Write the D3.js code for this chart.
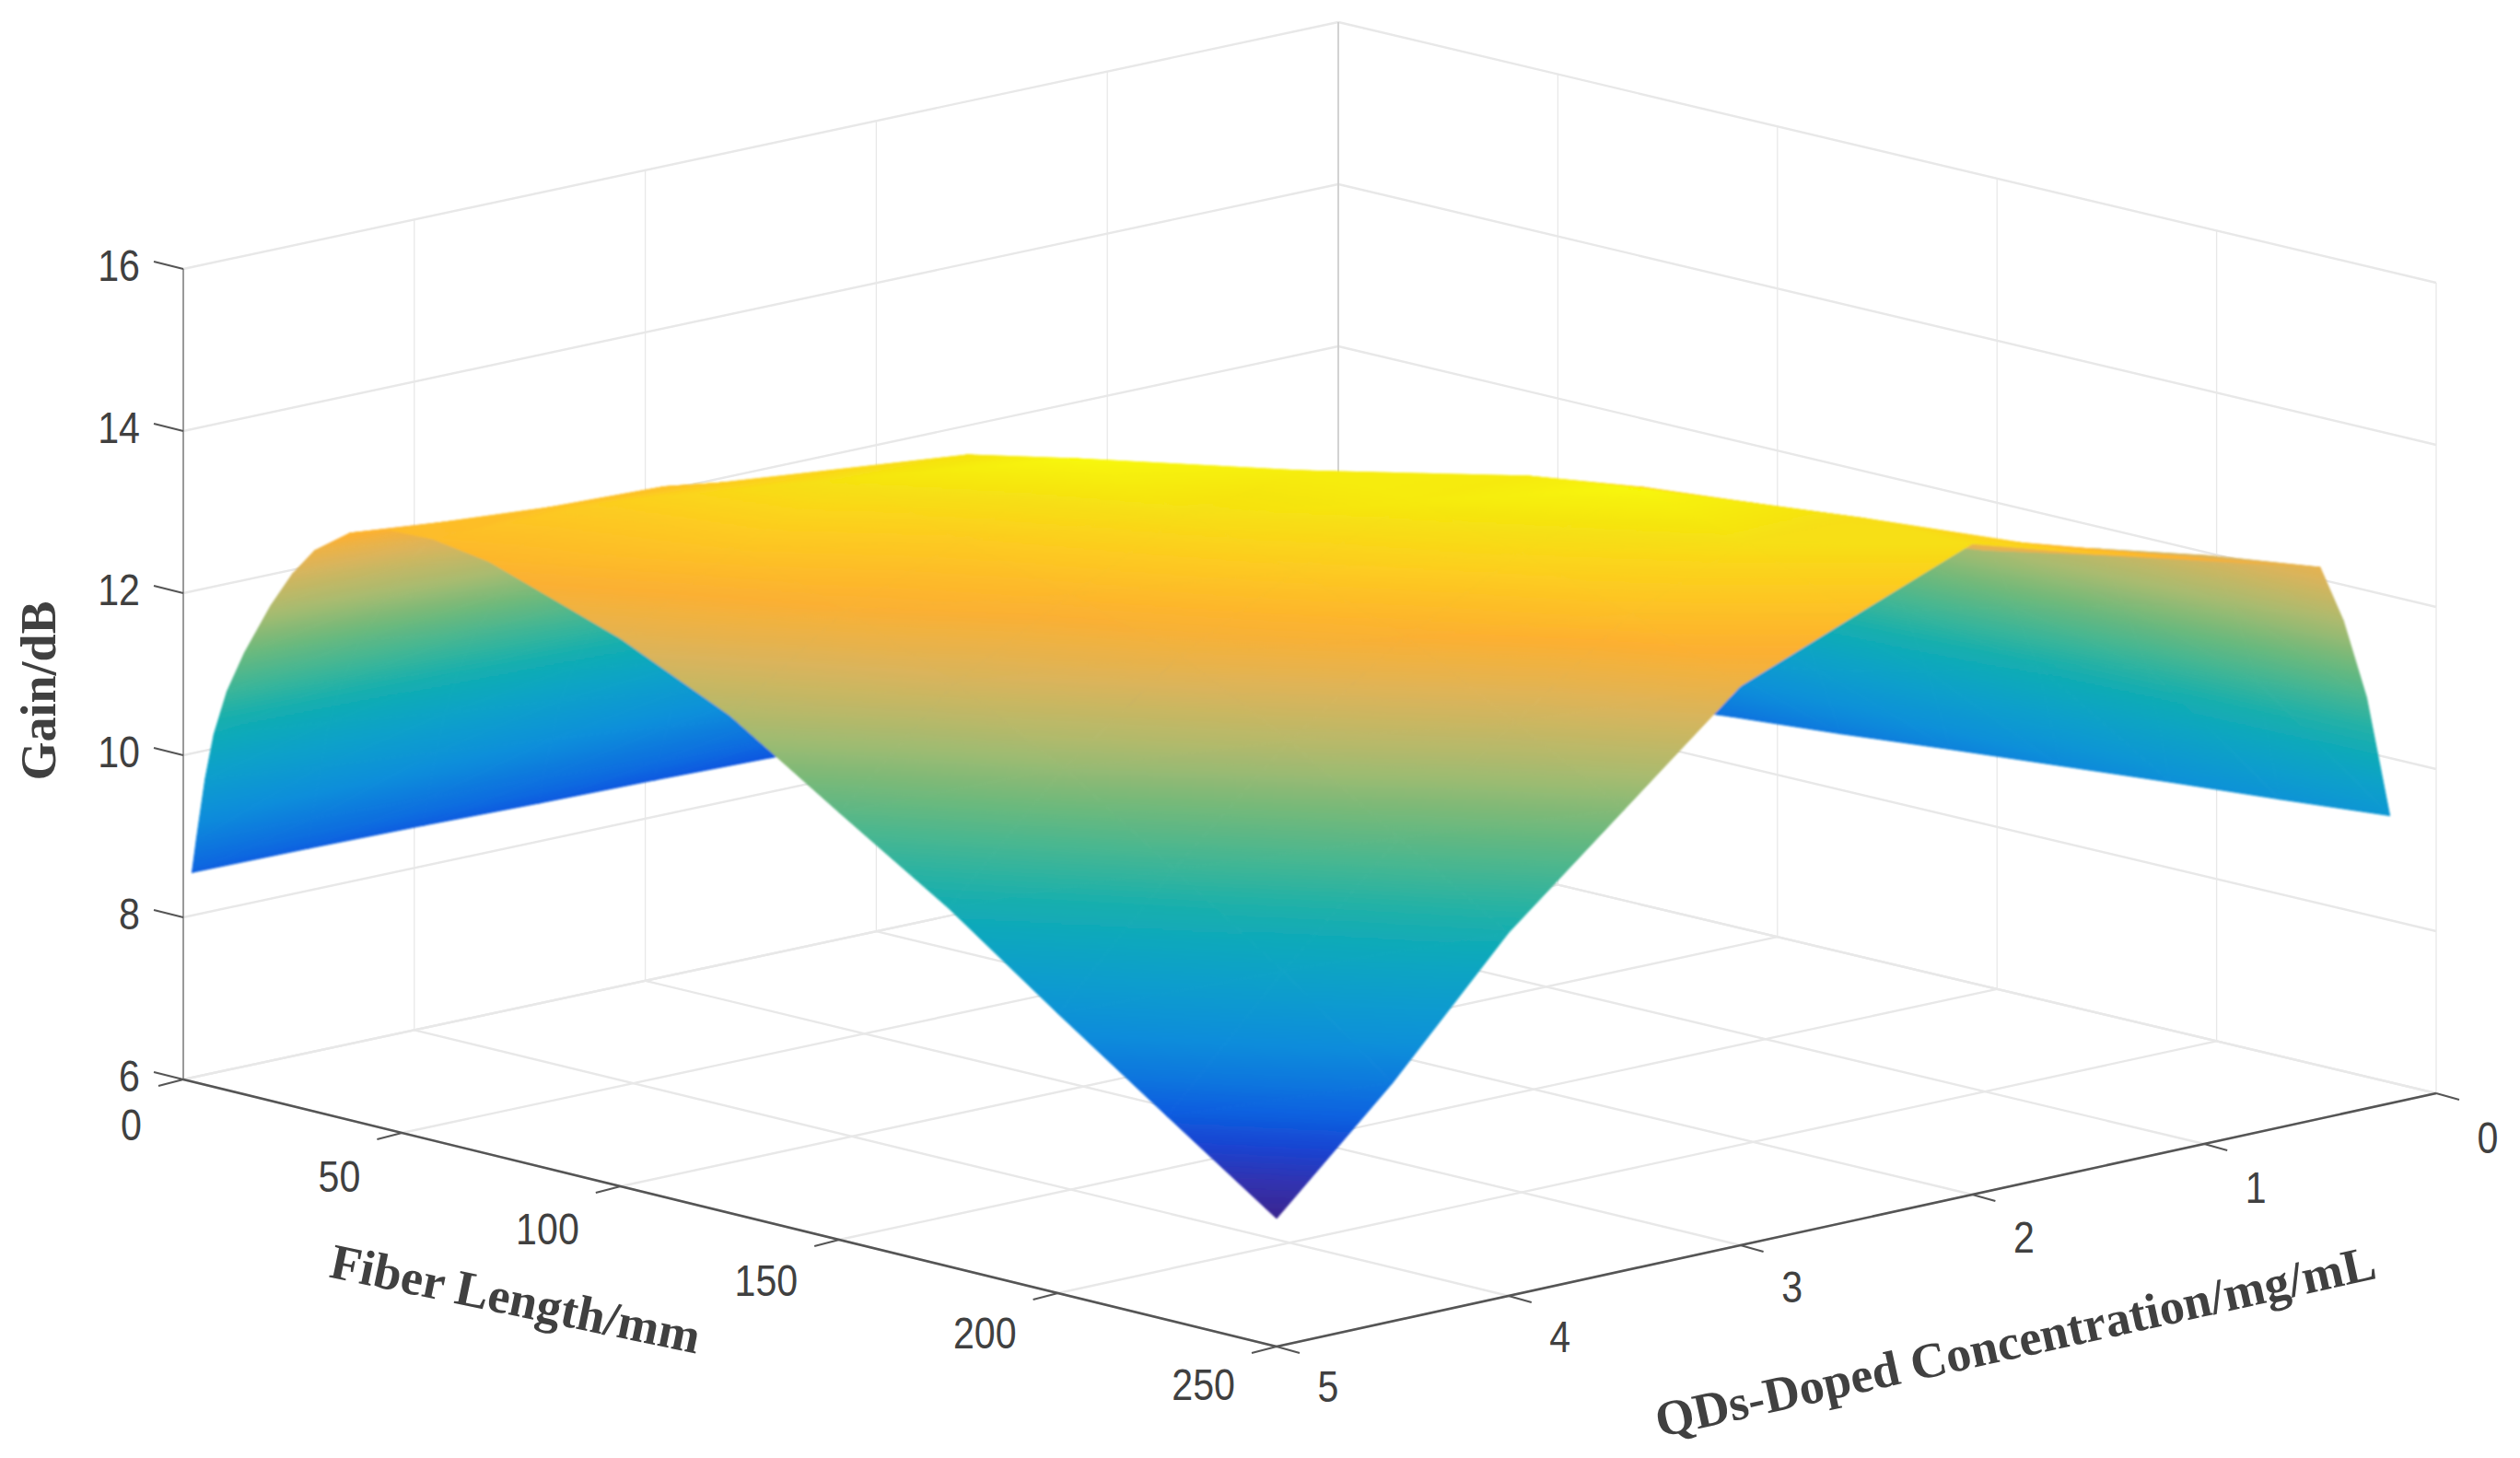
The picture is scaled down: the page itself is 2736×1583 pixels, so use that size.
<!DOCTYPE html>
<html>
  <head>
	<meta charset="utf-8">
	<title>Gain surface</title>
	<script src="https://d3js.org/d3.v7.min.js"></script>
	<style>
		html, body { margin: 0; background: #fff; }
		.tick-label { font-family: "Liberation Sans", sans-serif; font-size: 49px; fill: #404040; }
		.axis-title { font-family: "Liberation Serif", serif; font-weight: bold; font-size: 54px; fill: #404040; }
	</style>
  </head>
  <body>
	<svg id="chart"></svg>
	<script type="text/javascript">
		var fiberTicks = [0, 50, 100, 150, 200, 250];
		var concTicks = [0, 1, 2, 3, 4, 5];
		var gainTicks = [6, 8, 10, 12, 14, 16];

		var fiberLengths = [2, 3, 5, 7, 10, 14, 20, 25, 30, 38, 47, 57, 70, 100, 125, 150, 175, 200, 225, 250];
		var concentrations = [0.2, 0.3, 0.4, 0.5, 1, 1.5, 2, 2.5, 3, 3.5, 4, 4.5, 5];

		// one row per concentration, one value per fiber length
		var gain = [
			[7.7, 7.75, 7.82, 7.88, 7.97, 8.07, 8.17, 8.25, 8.32, 8.42, 8.52, 8.6, 8.68, 8.84, 8.95, 9.08, 9.2, 9.32, 9.43, 9.55],
			[7.8, 7.87, 8.0, 8.1, 8.25, 8.4, 8.6, 8.72, 8.85, 8.98, 9.1, 9.2, 9.35, 9.6, 9.8, 10.1, 10.5, 10.8, 10.95, 11.07],
			[7.85, 7.95, 8.15, 8.3, 8.5, 8.7, 8.95, 9.1, 9.25, 9.45, 9.65, 9.85, 10.05, 10.4, 10.65, 10.92, 11.28, 11.62, 11.93, 12.08],
			[7.9, 8.0, 8.25, 8.45, 8.7, 8.95, 9.25, 9.45, 9.65, 9.9, 10.15, 10.35, 10.6, 11.05, 11.45, 11.8, 12.08, 12.38, 12.62, 12.8],
			[8.15, 8.3, 8.55, 8.8, 9.1, 9.45, 9.8, 10.05, 10.3, 10.6, 10.85, 11.15, 11.38, 11.9, 12.15, 12.35, 12.5, 12.68, 12.95, 13.22],
			[8.3, 8.45, 8.75, 9.05, 9.4, 9.8, 10.2, 10.5, 10.8, 11.15, 11.45, 11.75, 11.98, 12.4, 12.72, 12.96, 13.12, 13.28, 13.45, 13.6],
			[8.42, 8.6, 8.9, 9.25, 9.65, 10.1, 10.55, 10.9, 11.25, 11.65, 12.0, 12.3, 12.48, 12.9, 13.21, 13.47, 13.75, 13.88, 14.02, 14.03],
			[8.47, 8.7, 9.05, 9.45, 9.85, 10.3, 10.8, 11.2, 11.55, 11.95, 12.3, 12.6, 12.84, 13.26, 13.53, 13.89, 14.2, 14.38, 14.04, 13.47],
			[8.5, 8.75, 9.2, 9.65, 10.05, 10.55, 11.05, 11.5, 11.85, 12.3, 12.6, 12.9, 13.15, 13.67, 13.93, 14.25, 14.2, 13.89, 13.46, 12.9],
			[8.52, 8.85, 9.35, 9.85, 10.3, 10.8, 11.35, 11.8, 12.15, 12.6, 12.9, 13.2, 13.46, 14.1, 14.38, 14.03, 13.65, 13.17, 12.44, 11.69],
			[8.55, 8.9, 9.5, 10.0, 10.55, 11.1, 11.65, 12.1, 12.45, 12.9, 13.15, 13.45, 13.67, 14.12, 13.67, 13.34, 12.92, 12.19, 11.32, 10.48],
			[8.57, 8.95, 9.62, 10.2, 10.75, 11.3, 11.9, 12.4, 12.75, 13.1, 13.25, 13.5, 13.73, 13.56, 13.13, 12.56, 11.84, 10.92, 9.99, 8.94],
			[8.58, 9.0, 9.77, 10.35, 10.92, 11.45, 12.11, 12.57, 12.92, 13.24, 13.4, 13.42, 13.31, 12.76, 12.14, 11.27, 10.42, 9.45, 8.51, 7.58]
		];

		var width = 2736, height = 1583;

		// floor corners of the box: slight perspective, so x/y are bilinear in fiber and conc
		var back = [1453, 904], right = [2645, 1187], left = [199, 1172], front = [1386, 1462];

		var uScale = d3.scaleLinear().domain([0, 250]).range([0, 1]);
		var vScale = d3.scaleLinear().domain([0, 5]).range([0, 1]);
		var zScale = d3.scaleLinear().domain([6, 16]).range([0, -880]);

		function project(fiber, conc, z) {
			var u = uScale(fiber), v = vScale(conc);
			var x = (1 - u) * (1 - v) * back[0] + u * (1 - v) * right[0] + (1 - u) * v * left[0] + u * v * front[0];
			var y = (1 - u) * (1 - v) * back[1] + u * (1 - v) * right[1] + (1 - u) * v * left[1] + u * v * front[1];
			return [x, y + zScale(z)];
		}

		// colours sampled from the reference down the middle of the surface
		var color = d3.scaleLinear()
			.domain([7.58, 7.7, 8.1, 8.4, 8.7, 9.3, 9.95, 10.5, 10.9, 11.5, 12.0, 12.65, 13.2, 13.7, 14.15, 14.42])
			.range(["#3a2590", "#3b2a9a", "#2a38c0", "#0c4fe0", "#0a6be0", "#0d8fda", "#08a2c8", "#14aeb0",
				"#38b59a", "#70b97a", "#a8bb70", "#dcb45a", "#fdb030", "#fdcc20", "#f5e60f", "#f8fa05"])
			.clamp(true);

		var svg = d3.select("#chart")
			.attr("width", width)
			.attr("height", height)
			.attr("viewBox", "0 0 " + width + " " + height);

		var defs = svg.append("defs");
		defs.append("filter")
			.attr("id", "soft")
			.attr("filterUnits", "userSpaceOnUse")
			.attr("x", 0).attr("y", 0)
			.attr("width", width).attr("height", height)
		  .append("feGaussianBlur")
			.attr("stdDeviation", 0.8);

		var line = d3.line();

		function drawLine(p0, p1, stroke, w) {
			svg.append("path")
				.attr("d", line([p0, p1]))
				.attr("fill", "none")
				.attr("stroke", stroke)
				.attr("stroke-width", w);
		}

		// grid on the floor and the two walls
		var gridColor = "#e8e8e8";
		fiberTicks.forEach(function(f) {
			drawLine(project(f, 0, 6), project(f, 5, 6), gridColor, 2.4);
			drawLine(project(f, 0, 6), project(f, 0, 16), "#e8e8e8", 1.3);
		});
		concTicks.forEach(function(c) {
			drawLine(project(0, c, 6), project(250, c, 6), gridColor, 2.4);
			drawLine(project(0, c, 6), project(0, c, 16), "#e8e8e8", 1.3);
		});
		gainTicks.forEach(function(z) {
			drawLine(project(0, 0, z), project(0, 5, z), gridColor, 2.4);
			drawLine(project(0, 0, z), project(250, 0, z), gridColor, 2.4);
		});
		drawLine(project(0, 0, 6), project(0, 0, 16), "#c8c8c8", 1.4);

		// surface: triangles far to near, each with a gradient holding its z field
		var surface = svg.append("g").attr("class", "surface").attr("filter", "url(#soft)");
		var gradId = 0;

		function drawTriangle(a, b, c) {
			var pts = [a, b, c];
			var dx1 = b[0] - a[0], dy1 = b[1] - a[1], dz1 = b[2] - a[2];
			var dx2 = c[0] - a[0], dy2 = c[1] - a[1], dz2 = c[2] - a[2];
			var det = dx1 * dy2 - dx2 * dy1;
			var gx = (dz1 * dy2 - dz2 * dy1) / det;
			var gy = (dx1 * dz2 - dx2 * dz1) / det;
			var g2 = gx * gx + gy * gy;
			var lo = d3.least(pts, function(p) { return p[2]; });
			var hi = d3.greatest(pts, function(p) { return p[2]; });
			var paint = color(lo[2]);

			if (Math.abs(det) > 1e-6 && g2 > 1e-9 && hi[2] > lo[2]) {
				var id = "g" + (gradId++);
				var k = (hi[2] - lo[2]) / g2;
				var grad = defs.append("linearGradient")
					.attr("id", id)
					.attr("gradientUnits", "userSpaceOnUse")
					.attr("x1", lo[0]).attr("y1", lo[1])
					.attr("x2", lo[0] + gx * k).attr("y2", lo[1] + gy * k);
				[0, 0.25, 0.5, 0.75, 1].forEach(function(t) {
					grad.append("stop")
						.attr("offset", t)
						.attr("stop-color", color(lo[2] + t * (hi[2] - lo[2])));
				});
				paint = "url(#" + id + ")";
			}

			surface.append("path")
				.attr("d", line(pts.map(function(p) { return [p[0], p[1]]; })) + "Z")
				.attr("fill", paint)
				.attr("stroke", paint)
				.attr("stroke-width", 1)
				.attr("stroke-linejoin", "round");
		}

		function vertex(i, j) {
			var p = project(fiberLengths[j], concentrations[i], gain[i][j]);
			return [p[0], p[1], gain[i][j]];
		}

		for (var i = 0; i < concentrations.length - 1; i++) {
			for (var j = 0; j < fiberLengths.length - 1; j++) {
				drawTriangle(vertex(i, j), vertex(i, j + 1), vertex(i + 1, j));
				drawTriangle(vertex(i, j + 1), vertex(i + 1, j + 1), vertex(i + 1, j));
			}
		}

		// box edges and ticks
		drawLine(project(0, 5, 6), project(0, 5, 16), "#999", 2);
		drawLine(project(0, 5, 6), project(250, 5, 6), "#555", 2.6);
		drawLine(project(250, 5, 6), project(250, 0, 6), "#555", 2.6);

		var tickStroke = "#555";
		fiberTicks.forEach(function(f) {
			var p = project(f, 5, 6);
			drawLine(p, [p[0] - 27, p[1] + 7], tickStroke, 2);
		});
		concTicks.forEach(function(c) {
			var p = project(250, c, 6);
			drawLine(p, [p[0] + 25, p[1] + 7], tickStroke, 2);
		});
		gainTicks.forEach(function(z) {
			var p = project(0, 5, z);
			drawLine(p, [p[0] - 32, p[1] - 8], tickStroke, 2);
		});

		// tick labels are a bit narrow in the reference
		function tickLabel(x, y, anchor, txt) {
			svg.append("text")
				.attr("class", "tick-label")
				.attr("text-anchor", anchor)
				.attr("transform", "translate(" + x + "," + y + ") scale(0.84,1)")
				.text(txt);
		}

		var fiberDy = d3.scaleLinear().domain([0, 250]).range([66, 58]);
		fiberTicks.forEach(function(f) {
			var p = project(f, 5, 6);
			tickLabel(p[0] - 45, p[1] + fiberDy(f), "end", f);
		});
		var concDy = d3.scaleLinear().domain([0, 5]).range([65, 60]);
		concTicks.forEach(function(c) {
			var p = project(250, c, 6);
			tickLabel(p[0] + 56, p[1] + concDy(c), "middle", c);
		});
		gainTicks.forEach(function(z) {
			var p = project(0, 5, z);
			tickLabel(152, p[1] + 13, "end", z);
		});

		function title(x, y, angle, txt) {
			svg.append("text")
				.attr("class", "axis-title")
				.attr("text-anchor", "middle")
				.attr("transform", "translate(" + x + "," + y + ") rotate(" + angle + ")")
				.text(txt);
		}
		title(60, 750, -90, "Gain/dB");
		title(556, 1428, 11.8, "Fiber Length/mm");
		title(2192, 1474, -12.5, "QDs-Doped Concentration/mg/mL");
	</script>
  </body>
</html>
